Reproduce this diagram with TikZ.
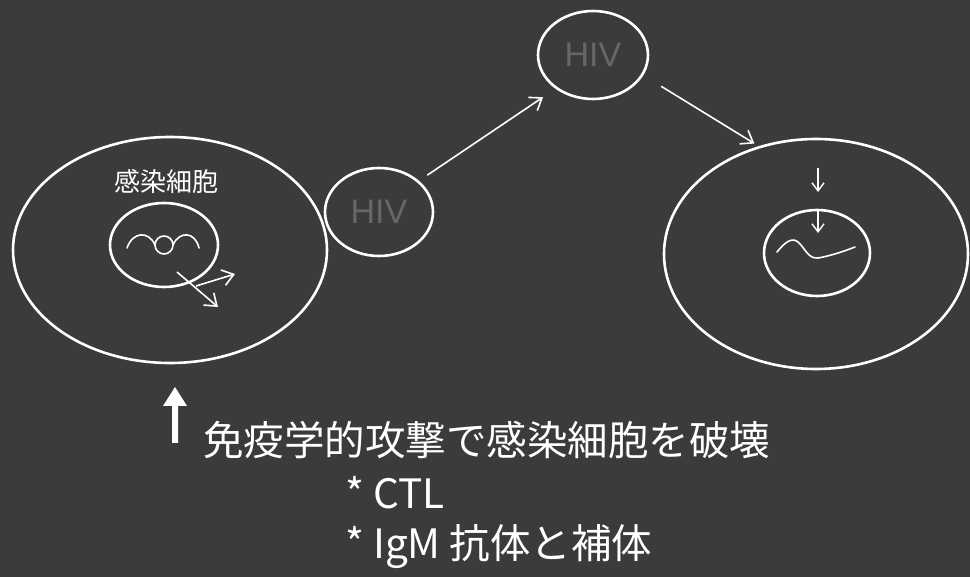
\documentclass[tikz,border=0pt]{standalone}
\usepackage{fontspec}
\setmainfont{Noto Sans CJK JP}
\newfontfamily\latinsans{Liberation Sans}
\usetikzlibrary{arrows.meta,shapes.geometric}
\definecolor{board}{HTML}{3B3B3B}
\definecolor{faint}{HTML}{676767}
\begin{document}
\begin{tikzpicture}[x=1pt,y=-1pt,
  ring/.style={draw=white, line width=2.6pt, ellipse, inner sep=0pt},
  virus/.style={ring, minimum width=108pt, minimum height=88pt,
    text=faint, font=\latinsans\fontsize{34}{34}\selectfont},
  strand/.style={draw=white, line width=1.6pt, line cap=round},
  arr/.style={draw=white, line width=1.6pt,
    -{Straight Barb[length=11pt,width=16pt,line width=1.6pt]}},
  small arr/.style={draw=white, line width=1.4pt,
    -{Straight Barb[length=8pt,width=12pt,line width=1.4pt]}},
  caption/.style={text=white, inner sep=0pt, anchor=west,
    text height=0.88em, text depth=0.12em,
    font=\fontsize{40.5}{40.5}\selectfont},
]
\fill[board] (0,0) rectangle (970,577);
\useasboundingbox (0,0) rectangle (970,577);

% infected cell with its nucleus and provirus
\node[ring, minimum width=314pt, minimum height=226pt] (cellL) at (170,250) {};
\node[ring, minimum width=108pt, minimum height=84pt] (nucL) at (164,245) {};
\node[text=white, inner sep=0pt, font=\fontsize{26}{26}\selectfont] (lblL) at (166,182) {感染細胞};
\draw[strand] (127,248) .. controls (133,231) and (149,231) .. (155,245);
\draw[strand] (164,245) circle (9);
\draw[strand] (173,245) .. controls (179,231) and (195,231) .. (199,248);
\coordinate (outA) at (177,272);
\coordinate (outAe) at (218,307);
\coordinate (outB) at (196,286);
\coordinate (outBe) at (235,274);
\draw[arr] (outA) -- (outAe);
\draw[arr] (outB) -- (outBe);

% released virions
\node[virus] (hiv1) at (379,212) {HIV};
\node[virus, minimum width=110pt] (hiv2) at (593,55) {HIV};

% newly infected cell
\node[ring, minimum width=304pt, minimum height=230pt] (cellR) at (816,254) {};
\node[ring, minimum width=106pt, minimum height=86pt] (nucR) at (817,253) {};
\draw[strand] (777,252) .. controls (785,242) and (792,237) .. (798,242)
  .. controls (805,248) and (808,259) .. (818,258)
  .. controls (830,256) and (845,251) .. (855,247);
\coordinate (entA) at (818,168);
\coordinate (entAe) at (818,192);
\coordinate (entB) at (818,210);
\coordinate (entBe) at (818,233);
\draw[small arr] (entA) -- (entAe);
\draw[small arr] (entB) -- (entBe);

% spread of infection
\draw[arr, shorten <=10pt, shorten >=15pt] (hiv1.38) -- (hiv2.222);
\draw[arr, shorten <=21pt, shorten >=5pt] (hiv2.-22) -- (cellR.118);

% immune attack marker
\fill[white] (172,443) -- (178,443) -- (178,406) -- (187,406) -- (175,387)
  -- (163,406) -- (172,406) -- cycle;

% caption
\node[caption] (attack) at (203,452) {免疫学的攻撃で感染細胞を破壊};
\node[caption] (ctl) at (345,505) {* CTL};
\node[caption] (igm) at (345,555) {* IgM 抗体と補体};
\end{tikzpicture}
\end{document}
